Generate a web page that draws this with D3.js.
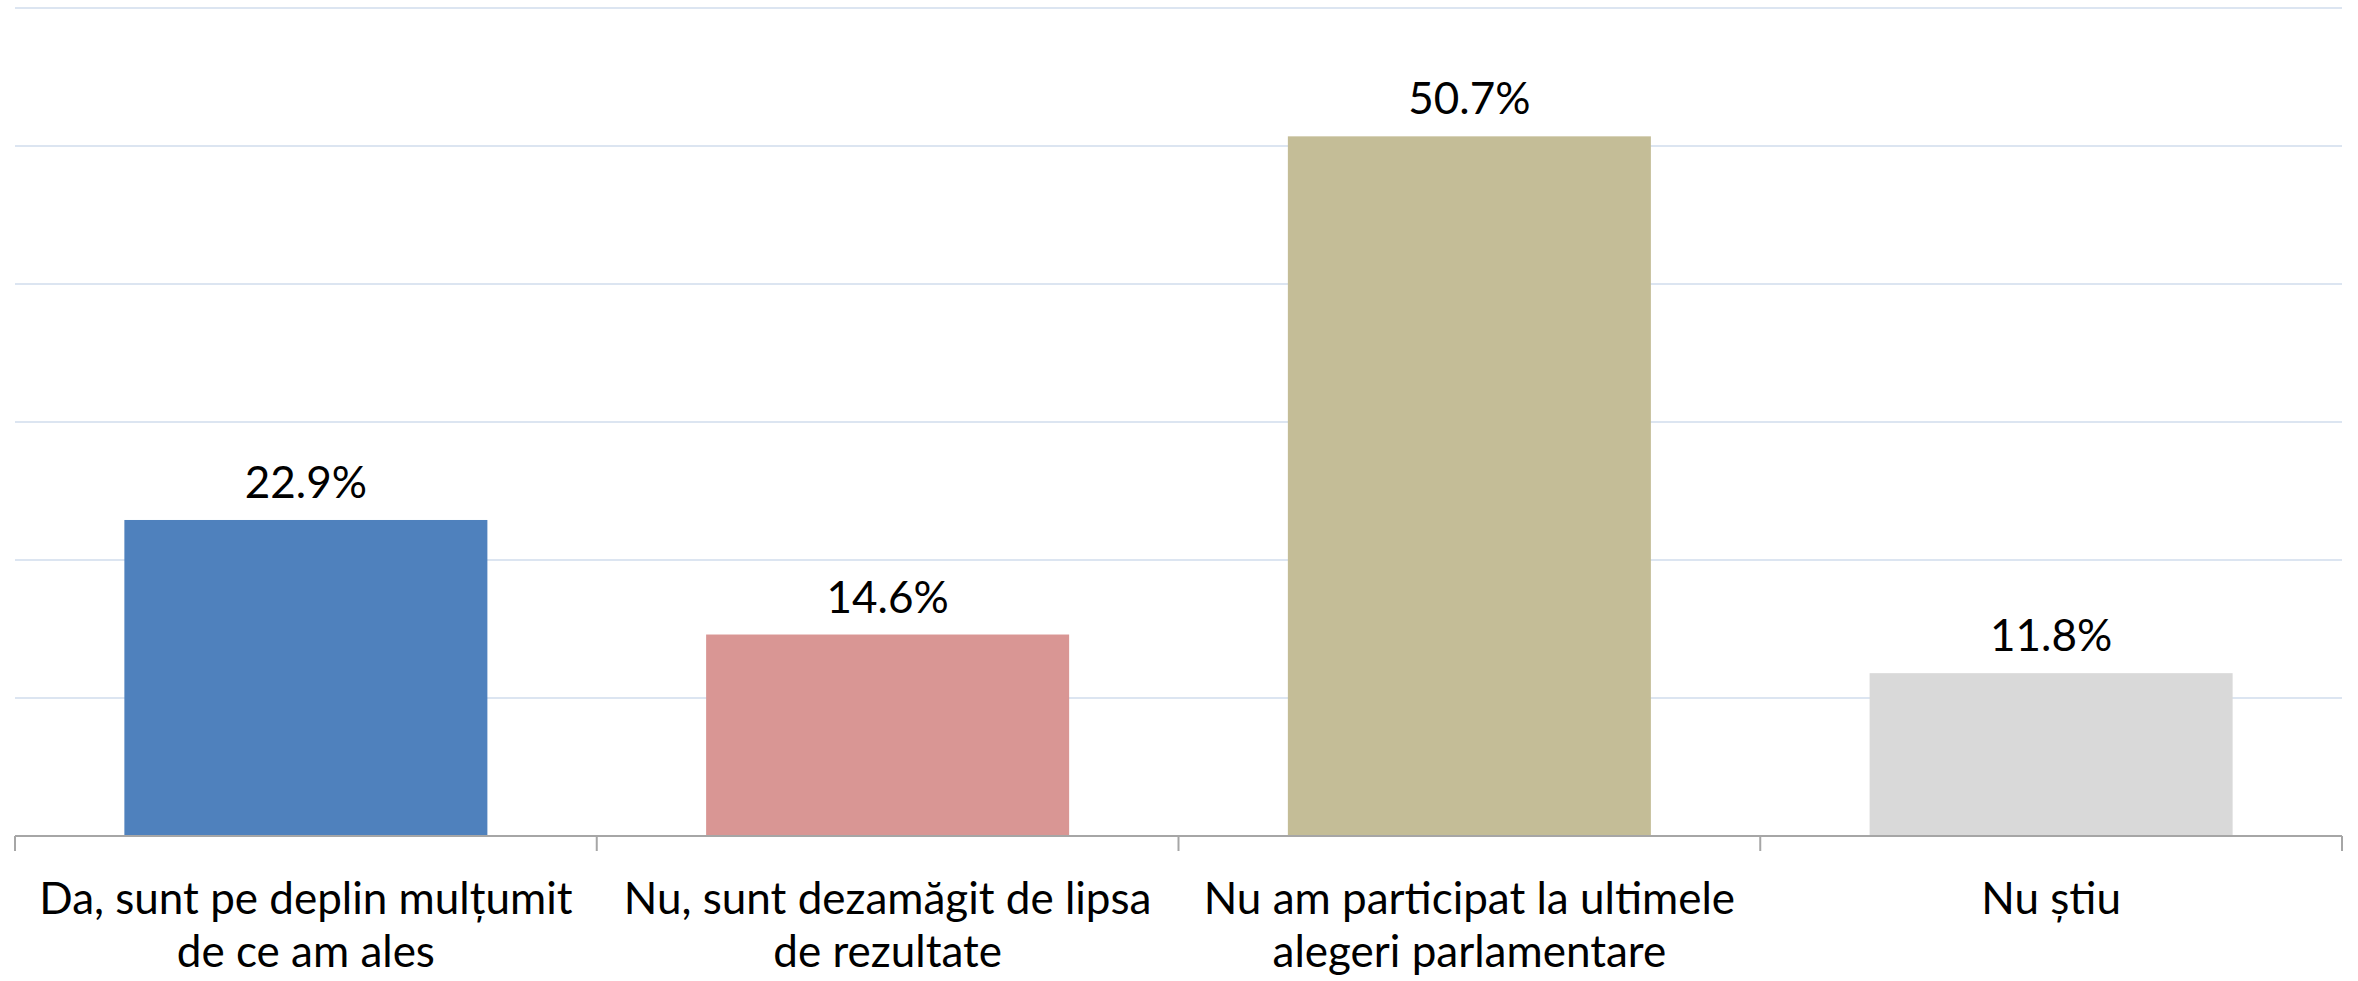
<!DOCTYPE html>
<html>
<head>
<meta charset="utf-8">
<script src="https://cdn.jsdelivr.net/npm/d3@7"></script>
<style>
  body { margin: 0; background: #fff; }
  svg text { font-family: Lato, "Open Sans", sans-serif; fill: #000; }
</style>
</head>
<body>
<svg id="chart" width="2358" height="981"></svg>
<script>
// data
const categories = [
  "Da, sunt pe deplin mulțumit de ce am ales",
  "Nu, sunt dezamăgit de lipsa de rezultate",
  "Nu am participat la ultimele alegeri parlamentare",
  "Nu știu"
];
const labelLines = [
  ["Da, sunt pe deplin mulțumit", "de ce am ales"],
  ["Nu, sunt dezamăgit de lipsa", "de rezultate"],
  ["Nu am participat la ultimele", "alegeri parlamentare"],
  ["Nu știu"]
];
const values = [22.9, 14.6, 50.7, 11.8];
const colors = ["#4F81BD", "#D99694", "#C4BD97", "#D9D9D9"];
const gridTicks = [0, 10, 20, 30, 40, 50, 60];

const svg = d3.select("#chart");
const margin = { left: 15, right: 16, top: 8, bottom: 145 };
const width = +svg.attr("width"), height = +svg.attr("height");

const x = d3.scaleBand()
  .domain(categories)
  .range([margin.left, width - margin.right])
  .paddingInner(0.376)
  .paddingOuter(0.188);

const y = d3.scaleLinear()
  .domain([0, 60])
  .range([height - margin.bottom, margin.top]);

// gridlines
svg.append("g")
  .selectAll("line")
  .data(gridTicks.slice(1))
  .enter().append("line")
  .attr("x1", margin.left)
  .attr("x2", width - margin.right)
  .attr("y1", d => y(d))
  .attr("y2", d => y(d))
  .attr("stroke", "#DCE5F1")
  .attr("stroke-width", 2);

// bars
svg.append("g")
  .selectAll("rect")
  .data(values)
  .enter().append("rect")
  .attr("x", (d, i) => x(categories[i]))
  .attr("width", x.bandwidth())
  .attr("y", d => y(d))
  .attr("height", d => y(0) - y(d))
  .attr("fill", (d, i) => colors[i]);

// x axis line and ticks at category boundaries
const step = x.step();
const bounds = d3.range(categories.length + 1).map(i => margin.left + i * step);
const axis = svg.append("g");
axis.append("line")
  .attr("x1", margin.left).attr("x2", width - margin.right)
  .attr("y1", y(0)).attr("y2", y(0))
  .attr("stroke", "#A6A6A6").attr("stroke-width", 2);
axis.selectAll(".tick")
  .data(bounds)
  .enter().append("line")
  .attr("x1", d => d).attr("x2", d => d)
  .attr("y1", y(0)).attr("y2", y(0) + 15)
  .attr("stroke", "#A6A6A6").attr("stroke-width", 2);

// value labels
svg.append("g")
  .selectAll("text")
  .data(values)
  .enter().append("text")
  .attr("x", (d, i) => x(categories[i]) + x.bandwidth() / 2)
  .attr("y", d => y(d) - 22)
  .attr("text-anchor", "middle")
  .attr("font-size", 44)
  .text(d => d.toFixed(1) + "%");

// category labels
const lab = svg.append("g")
  .selectAll("text")
  .data(labelLines)
  .enter().append("text")
  .attr("x", (d, i) => x(categories[i]) + x.bandwidth() / 2)
  .attr("y", y(0) + 78)
  .attr("text-anchor", "middle")
  .attr("font-size", 44);
lab.selectAll("tspan")
  .data(d => d)
  .enter().append("tspan")
  .attr("x", function () { return d3.select(this.parentNode).attr("x"); })
  .attr("dy", (d, i) => i === 0 ? 0 : 53)
  .text(d => d);
</script>
</body>
</html>
